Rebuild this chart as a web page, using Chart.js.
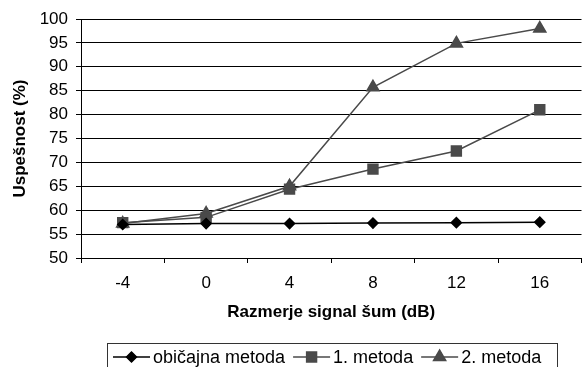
<!DOCTYPE html>
<html>
<head>
<meta charset="utf-8">
<script src="https://cdn.jsdelivr.net/npm/chart.js@4/dist/chart.umd.min.js"></script>
<style>
  html, body { margin: 0; padding: 0; background: #fff; overflow: hidden; }
  #wrap { position: relative; width: 583px; height: 367px; overflow: hidden; }
</style>
</head>
<body>
<div id="wrap"><canvas id="myChart" width="590" height="367"></canvas></div>
<script>
// categories (SNR in dB) and success rates in %
var snrLabels = ['-4', '0', '4', '8', '12', '16'];
var obicajnaMetoda = [57.0, 57.2, 57.2, 57.3, 57.4, 57.5];
var metoda1 = [57.4, 58.5, 64.4, 68.6, 72.4, 81.0];
var metoda2 = [57.2, 59.3, 65.0, 85.7, 94.9, 98.0];
var seriesNames = ['običajna metoda', '1. metoda', '2. metoda'];
var yTicksMin = 50, yTicksMax = 100, yStep = 5;

var FONT = 'Arial, "Liberation Sans", sans-serif';

// legend in a box under the plot, line + marker like the original
var boxLegend = {
    id: 'boxLegend',
    afterDraw: function (chart) {
        var ctx = chart.ctx;
        var left = 107, top = 343, right = 557, bottom = 380;
        var y = 357;
        ctx.save();
        ctx.strokeStyle = '#333';
        ctx.lineWidth = 1;
        ctx.strokeRect(left + 0.5, top + 0.5, right - left, bottom - top);
        ctx.font = '18px ' + FONT;
        ctx.textBaseline = 'middle';
        var x = 113;
        chart.data.datasets.forEach(function (ds) {
            ctx.strokeStyle = ds.borderColor;
            ctx.lineWidth = ds.borderWidth;
            ctx.beginPath();
            ctx.moveTo(x, y);
            ctx.lineTo(x + 37, y);
            ctx.stroke();
            Chart.helpers.drawPoint(ctx, {
                pointStyle: ds.pointStyle,
                radius: ds.pointRadius,
                borderWidth: 1
            }, x + 18.5, y);
            ctx.fillStyle = ds.pointBackgroundColor;
            ctx.fill();
            ctx.fillStyle = '#000';
            ctx.fillText(ds.label, x + 40, y + 1);
            x += 40 + ctx.measureText(ds.label).width + 8;
        });
        ctx.restore();
    }
};

var ctx = document.getElementById('myChart');
var myChart = new Chart(ctx, {
    type: 'line',
    data: {
        labels: snrLabels,
        datasets: [{
            label: seriesNames[0],
            data: obicajnaMetoda,
            borderColor: '#000',
            backgroundColor: '#000',
            pointBackgroundColor: '#000',
            pointBorderColor: '#000',
            borderWidth: 1.5,
            pointStyle: 'rectRot',
            pointRadius: 5
        }, {
            label: seriesNames[1],
            data: metoda1,
            borderColor: '#4a4a4a',
            backgroundColor: '#4a4a4a',
            pointBackgroundColor: '#4a4a4a',
            pointBorderColor: '#4a4a4a',
            borderWidth: 1.5,
            pointStyle: 'rect',
            pointRadius: 7
        }, {
            label: seriesNames[2],
            data: metoda2,
            borderColor: '#4a4a4a',
            backgroundColor: '#4a4a4a',
            pointBackgroundColor: '#4a4a4a',
            pointBorderColor: '#4a4a4a',
            borderWidth: 1.5,
            pointStyle: 'triangle',
            pointRadius: 7
        }]
    },
    options: {
        responsive: false,
        animation: false,
        layout: { padding: { left: 0, top: 19, right: 5, bottom: 42 } },
        plugins: {
            legend: { display: false },
            tooltip: { enabled: false }
        },
        scales: {
            x: {
                offset: true,
                afterFit: function (s) { s.height = 67; },
                grid: { offset: true, drawOnChartArea: false, tickLength: 5, color: '#000' },
                border: { color: '#000', width: 1 },
                ticks: { color: '#000', padding: 10, font: { family: FONT, size: 17 } },
                title: {
                    display: true,
                    text: 'Razmerje signal šum (dB)',
                    color: '#000',
                    font: { family: FONT, size: 17, weight: 'bold' },
                    padding: { top: 0, bottom: 2 }
                }
            },
            y: {
                min: yTicksMin,
                max: yTicksMax,
                afterFit: function (s) { s.width = 81; },
                grid: { color: '#000', lineWidth: 1, tickLength: 5 },
                border: { color: '#000', width: 1 },
                ticks: { stepSize: yStep, color: '#000', padding: 8, font: { family: FONT, size: 17 } },
                title: {
                    display: true,
                    text: 'Uspešnost (%)',
                    color: '#000',
                    font: { family: FONT, size: 17, weight: 'bold' },
                    padding: { top: 10, bottom: 0 }
                }
            }
        }
    },
    plugins: [boxLegend]
});
</script>
</body>
</html>
